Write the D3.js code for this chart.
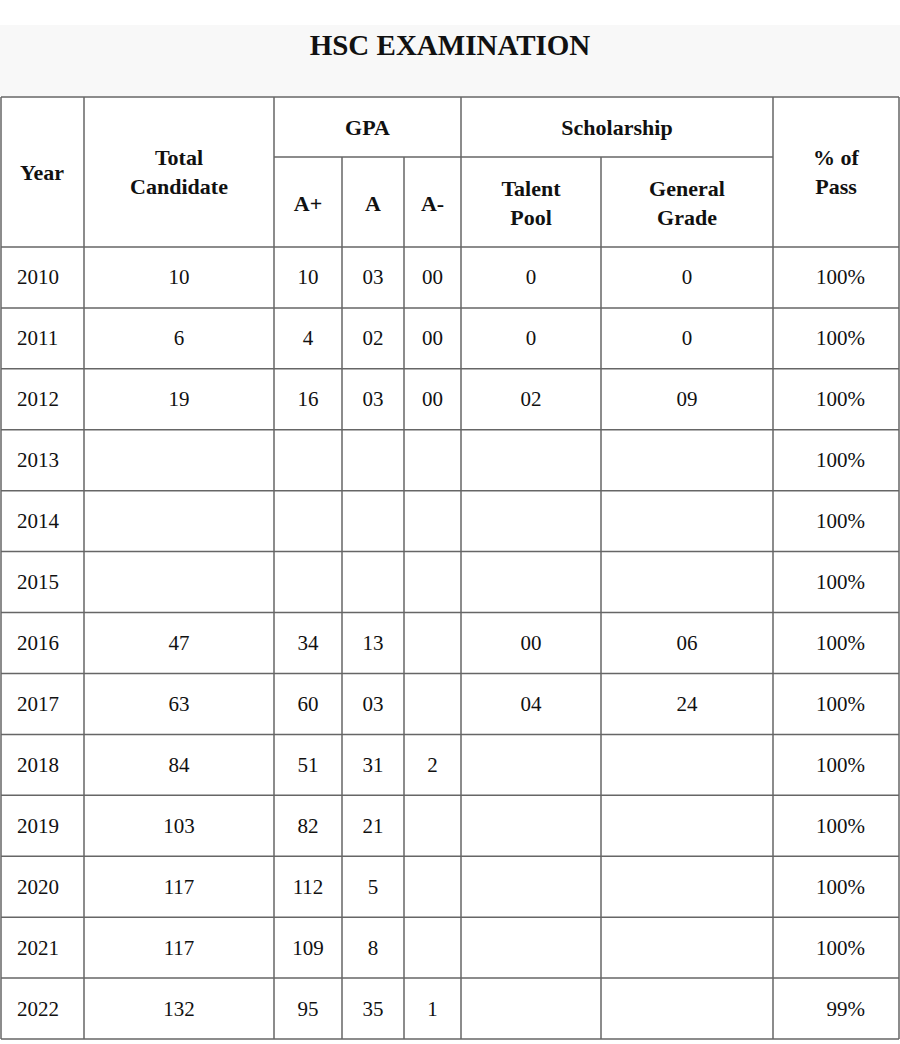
<!DOCTYPE html>
<html>
<head>
<meta charset="utf-8">
<script src="https://cdn.jsdelivr.net/npm/d3@7"></script>
<style>
  body{margin:0;background:#fff}
  text{font-family:"Liberation Serif","Times New Roman",serif;fill:#111}
</style>
</head>
<body>
<svg id="chart" width="900" height="1044"></svg>
<script>
const years = ["2010","2011","2012","2013","2014","2015","2016","2017","2018","2019","2020","2021","2022"]
const totalCandidate = ["10","6","19","","","","47","63","84","103","117","117","132"]
const gpaAPlus = ["10","4","16","","","","34","60","51","82","112","109","95"]
const gpaA = ["03","02","03","","","","13","03","31","21","5","8","35"]
const gpaAMinus = ["00","00","00","","","","","","2","","","","1"]
const talentPool = ["0","0","02","","","","00","04","","","","",""]
const generalGrade = ["0","0","09","","","","06","24","","","","",""]
const passRate = ["100%","100%","100%","100%","100%","100%","100%","100%","100%","100%","100%","100%","99%"]

const svg = d3.select("#chart")
const lineColor = "#666"

// column edges
const colX = [1, 84, 274, 342, 404, 461, 601, 773, 899]
const tableTop = 97, headMid = 157, headBot = 247, tableBottom = 1039

const yScale = d3.scaleBand().domain(years).range([headBot, tableBottom])

// title band
svg.append("rect").attr("x",0).attr("y",25).attr("width",900).attr("height",71).attr("fill","#f8f8f8")
svg.append("text").attr("x",450).attr("y",55).attr("text-anchor","middle")
  .style("font-size","29px").style("font-weight","bold").text("HSC EXAMINATION")

const g = svg.append("g").attr("stroke",lineColor).attr("stroke-width",1.5)

// horizontal lines
g.append("line").attr("x1",colX[0]).attr("x2",colX[8]).attr("y1",tableTop).attr("y2",tableTop)
g.append("line").attr("x1",colX[2]).attr("x2",colX[7]).attr("y1",headMid).attr("y2",headMid)
const rowLines = years.map(y=>yScale(y)).concat([tableBottom])
g.selectAll(".hl").data(rowLines).enter().append("line")
  .attr("x1",colX[0]).attr("x2",colX[8]).attr("y1",d=>d).attr("y2",d=>d)

// vertical lines
colX.forEach((x,i)=>{
  const y1 = (i===3||i===4||i===6) ? headMid : tableTop
  g.append("line").attr("x1",x).attr("x2",x).attr("y1",y1).attr("y2",tableBottom)
})

// header text
function head(lines, x, y){
  const t = svg.append("text").attr("text-anchor","middle")
    .style("font-size","22px").style("font-weight","bold")
  lines.forEach((l,i)=>t.append("tspan").attr("x",x).attr("y",y+i*29).text(l))
}
const mid = i => (colX[i]+colX[i+1])/2
head(["Year"], 42, 180)
head(["Total","Candidate"], mid(1), 165)
head(["GPA"], (colX[2]+colX[5])/2, 135)
head(["Scholarship"], (colX[5]+colX[7])/2, 135)
head(["A+"], mid(2), 211)
head(["A"], mid(3), 211)
head(["A-"], mid(4), 211)
head(["Talent","Pool"], mid(5), 196)
head(["General","Grade"], mid(6), 196)
head(["% of","Pass"], mid(7), 165)

// body cells
const cols = [
  {data: years, x: 17, anchor: "start"},
  {data: totalCandidate, x: mid(1), anchor: "middle"},
  {data: gpaAPlus, x: mid(2), anchor: "middle"},
  {data: gpaA, x: mid(3), anchor: "middle"},
  {data: gpaAMinus, x: mid(4), anchor: "middle"},
  {data: talentPool, x: mid(5), anchor: "middle"},
  {data: generalGrade, x: mid(6), anchor: "middle"},
  {data: passRate, x: 865, anchor: "end"}
]
cols.forEach(c=>{
  svg.append("g").selectAll("text").data(c.data).enter().append("text")
    .attr("x",c.x).attr("y",(d,i)=>yScale(years[i])+yScale.bandwidth()/2+7)
    .attr("text-anchor",c.anchor).style("font-size","21px").text(d=>d)
})
</script>
</body>
</html>
